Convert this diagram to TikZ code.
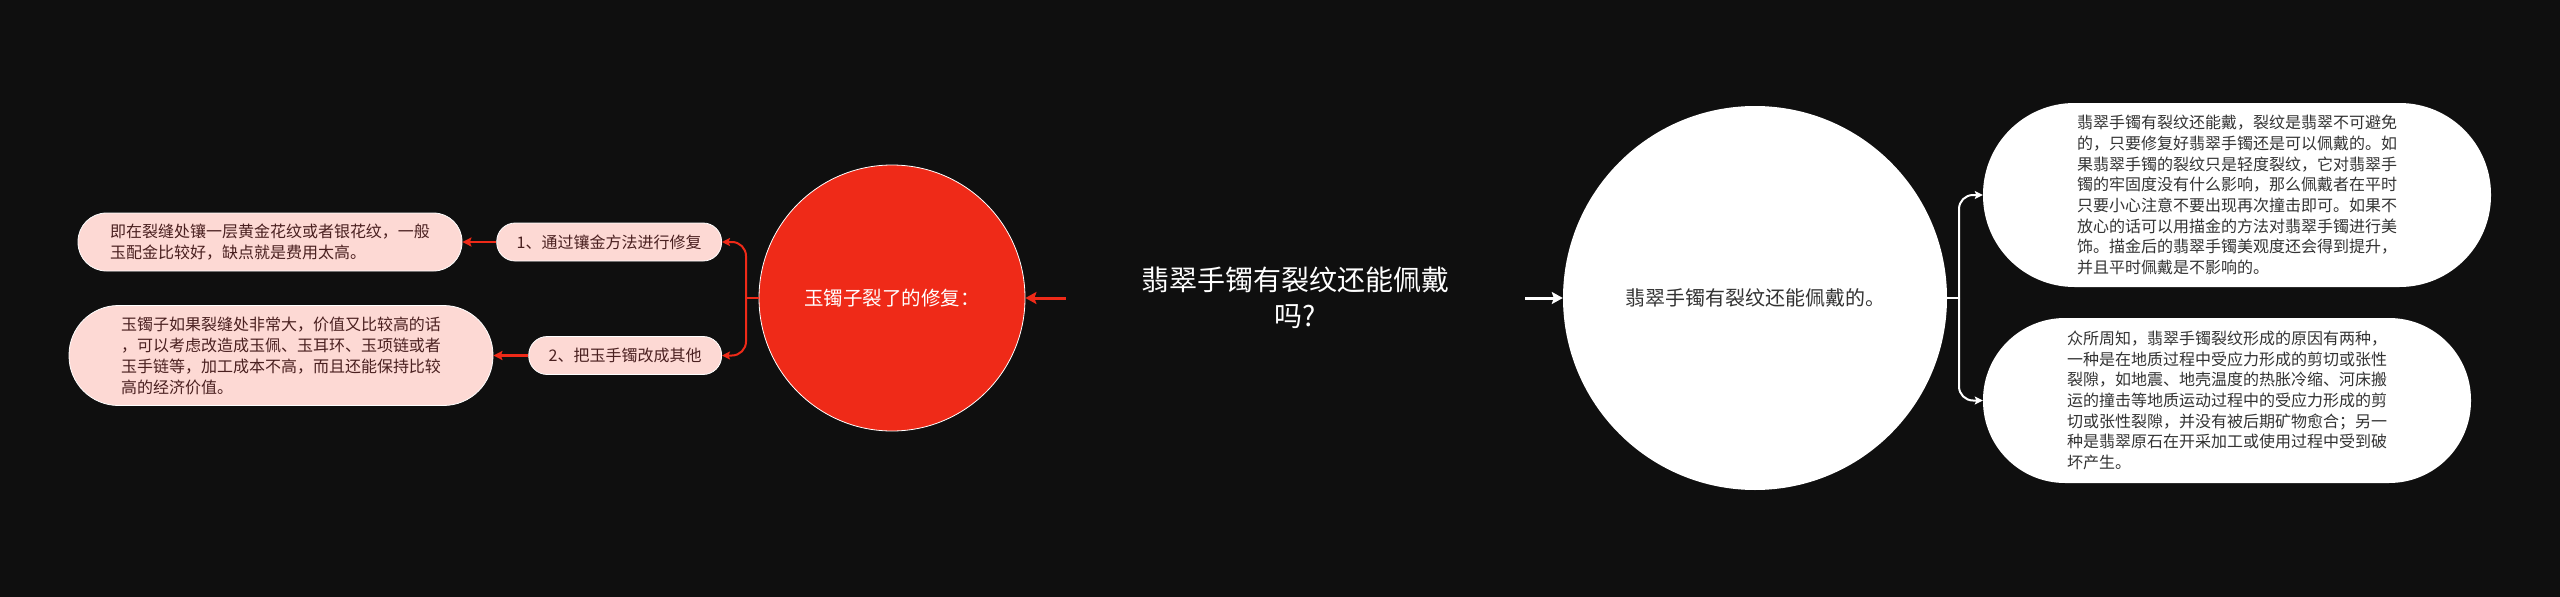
\documentclass[tikz,border=0pt]{standalone}
\usepackage{fontspec}
\setmainfont{Noto Sans CJK SC}
\usetikzlibrary{arrows.meta}
\definecolor{bgc}{HTML}{0F0F0F}
\definecolor{redc}{HTML}{EF2A18}
\definecolor{pinkc}{HTML}{FDD9D4}
\definecolor{maroonc}{HTML}{4A2020}
\definecolor{darkt}{HTML}{333333}
\begin{document}
\begin{tikzpicture}[x=1pt,y=-1pt,
  redcirc/.style={circle, fill=redc, draw=white, line width=0.8pt, minimum size=266pt, inner sep=0pt, text=white, font=\fontsize{19.5}{24}\selectfont},
  whitecirc/.style={circle, fill=white, minimum size=384pt, inner sep=0pt, text=darkt, font=\fontsize{20}{24}\selectfont},
  centertext/.style={inner sep=0pt, minimum width=459pt, minimum height=80pt, text=white, align=center, font=\fontsize{28}{36}\selectfont},
  pinkbox/.style={fill=pinkc, draw=white, line width=0.8pt, inner sep=0pt, text=maroonc, align=left, font=\fontsize{16}{21}\selectfont},
  pinklabel/.style={fill=pinkc, draw=white, line width=0.8pt, inner xsep=20pt, inner ysep=0pt, minimum height=38pt, rounded corners=18.5pt, text=maroonc, font=\fontsize{16}{20}\selectfont},
  whitebox/.style={fill=white, inner sep=0pt, text=darkt, align=left, font=\fontsize{16}{20.7}\selectfont},
  redarr/.style={draw=redc, line width=3pt, -{Stealth[length=11pt,width=12pt,inset=2pt]}},
  whitearr/.style={draw=white, line width=3pt, -{Stealth[length=11pt,width=12pt,inset=2pt]}},
  redthin/.style={draw=redc, line width=2pt, rounded corners=14pt, -{Stealth[length=8pt,width=8pt,inset=1.5pt]}},
  whitethin/.style={draw=white, line width=2pt, rounded corners=14pt, -{Stealth[length=8pt,width=8pt,inset=1.5pt]}}
]
\fill[bgc] (0,0) rectangle (2560,597);

% main nodes
\node[centertext] (c) at (1295.5,298) {翡翠手镯有裂纹还能佩戴\\吗?};
\node[redcirc] (rc) at (892,298) {玉镯子裂了的修复：};
\node[whitecirc] (wc) at (1755,298) {翡翠手镯有裂纹还能佩戴的。};

% left branch
\node[pinklabel, anchor=east] (l1) at (722,242) {1、通过镶金方法进行修复};
\node[pinklabel, anchor=east] (l2) at (722,355.5) {2、把玉手镯改成其他};
\node[pinkbox, minimum width=384pt, minimum height=58pt, rounded corners=28.5pt] (f1) at (270,242)
  {即在裂缝处镶一层黄金花纹或者银花纹，一般\\玉配金比较好，缺点就是费用太高。};
\node[pinkbox, minimum width=424pt, minimum height=100pt, rounded corners=49.5pt] (f2) at (281,355.5)
  {玉镯子如果裂缝处非常大，价值又比较高的话\\，可以考虑改造成玉佩、玉耳环、玉项链或者\\玉手链等，加工成本不高，而且还能保持比较\\高的经济价值。};

% right branch
\node[whitebox, minimum width=508pt, minimum height=184pt, rounded corners=91.5pt] (r1) at (2237,195)
  {翡翠手镯有裂纹还能戴，裂纹是翡翠不可避免\\的，只要修复好翡翠手镯还是可以佩戴的。如\\果翡翠手镯的裂纹只是轻度裂纹，它对翡翠手\\镯的牢固度没有什么影响，那么佩戴者在平时\\只要小心注意不要出现再次撞击即可。如果不\\放心的话可以用描金的方法对翡翠手镯进行美\\饰。描金后的翡翠手镯美观度还会得到提升，\\并且平时佩戴是不影响的。};
\node[whitebox, minimum width=488pt, minimum height=165pt, rounded corners=82pt] (r2) at (2227,400.5)
  {众所周知，翡翠手镯裂纹形成的原因有两种，\\一种是在地质过程中受应力形成的剪切或张性\\裂隙，如地震、地壳温度的热胀冷缩、河床搬\\运的撞击等地质运动过程中的受应力形成的剪\\切或张性裂隙，并没有被后期矿物愈合；另一\\种是翡翠原石在开采加工或使用过程中受到破\\坏产生。};

% junction points
\coordinate (lj) at (746,298);
\coordinate (rj) at (1959,298);

% connectors
\draw[redarr] (c.west) -- (rc.east);
\draw[whitearr] (c.east) -- (wc.west);

\draw[draw=redc, line width=2pt] (rc.west) -- (lj);
\draw[redthin] (lj) |- (l1.east);
\draw[redthin] (lj) |- (l2.east);
\draw[redarr, line width=2.5pt, -{Stealth[length=9pt,width=9pt,inset=1.5pt]}] (l1.west) -- (l1.west -| f1.east);
\draw[redarr, line width=2.5pt, -{Stealth[length=9pt,width=9pt,inset=1.5pt]}] (l2.west) -- (l2.west -| f2.east);

\draw[draw=white, line width=2pt] (wc.east) -- (rj);
\draw[whitethin] (rj) |- (r1.west);
\draw[whitethin] (rj) |- (r2.west);
\end{tikzpicture}
\end{document}
